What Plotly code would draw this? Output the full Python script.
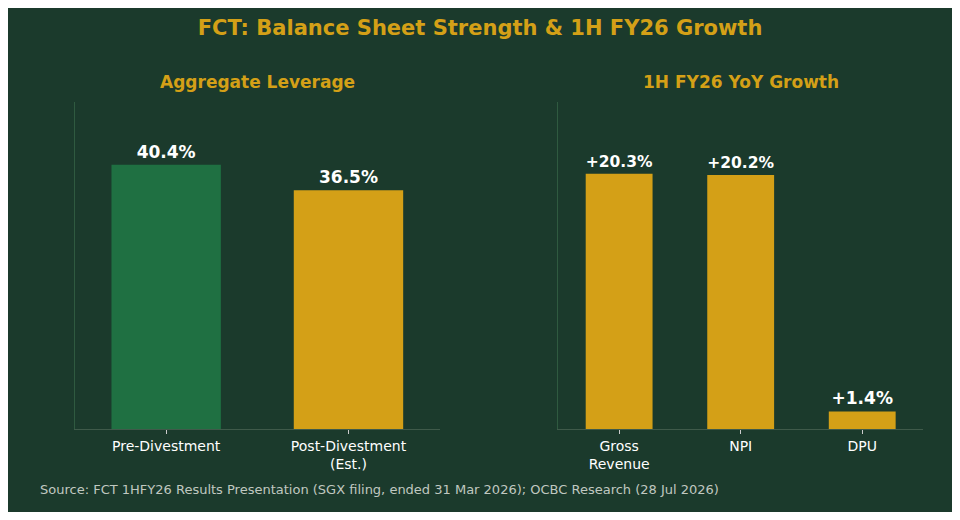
import plotly.graph_objects as go
from plotly.subplots import make_subplots

lev_cats = ["Pre-Divestment", "Post-Divestment<br>(Est.)"]
lev_vals = [40.4, 36.5]
lev_labels = ["40.4%", "36.5%"]
lev_colors = ["#1f7042", "#d4a017"]

gr_cats = ["Gross<br>Revenue", "NPI", "DPU"]
gr_vals = [20.3, 20.2, 1.4]
gr_labels = ["+20.3%", "+20.2%", "+1.4%"]

BG = "#1b3a2c"
GOLD = "#d4a017"
FONT = "DejaVu Sans"

fig = make_subplots(rows=1, cols=2, horizontal_spacing=0.14,
                    subplot_titles=["<b>Aggregate Leverage</b>", "<b>1H FY26 YoY Growth</b>"])
fig.add_trace(go.Bar(x=lev_cats, y=lev_vals, text=["<b>%s</b>" % t for t in lev_labels], width=0.6,
                     marker=dict(color=lev_colors, line=dict(width=0)),
                     textposition="outside", cliponaxis=False,
                     textfont=dict(color="white", size=17, family=FONT)), 1, 1)
fig.add_trace(go.Bar(x=gr_cats, y=gr_vals, text=["<b>%s</b>" % t for t in gr_labels], width=0.55,
                     marker=dict(color=GOLD, line=dict(width=0)),
                     textposition="outside", cliponaxis=False,
                     textfont=dict(color="white", size=17, family=FONT)), 1, 2)

fig.update_layout(
    paper_bgcolor=BG, plot_bgcolor=BG, showlegend=False,
    margin=dict(l=67, r=29, t=94, b=83),
    font=dict(family=FONT, color="white"),
    title=dict(text="<b>FCT: Balance Sheet Strength & 1H FY26 Growth</b>", x=0.5, y=0.975,
               xanchor="center", font=dict(size=21, color=GOLD, family=FONT)),
)
for a in fig.layout.annotations:
    a.font = dict(size=17, color=GOLD, family=FONT)
    a.yshift = 8
fig.update_xaxes(showgrid=False, showline=True, linecolor="#3f5a4a", ticks="outside",
                 tickcolor="#cccccc", ticklen=4, tickfont=dict(size=14, color="white"))
fig.update_yaxes(showgrid=False, showticklabels=False, zeroline=False,
                 showline=True, linecolor="#2f5a40")
fig.update_yaxes(range=[0, 50], row=1, col=1)
fig.update_yaxes(range=[0, 26], row=1, col=2)
fig.add_annotation(text="Source: FCT 1HFY26 Results Presentation (SGX filing, ended 31 Mar 2026); OCBC Research (28 Jul 2026)",
                   xref="paper", yref="paper", x=-0.044, y=-0.185, xanchor="left", yanchor="middle",
                   showarrow=False, font=dict(size=13, color="#c0c8c0", family=FONT))
fig.write_html("out.html")
